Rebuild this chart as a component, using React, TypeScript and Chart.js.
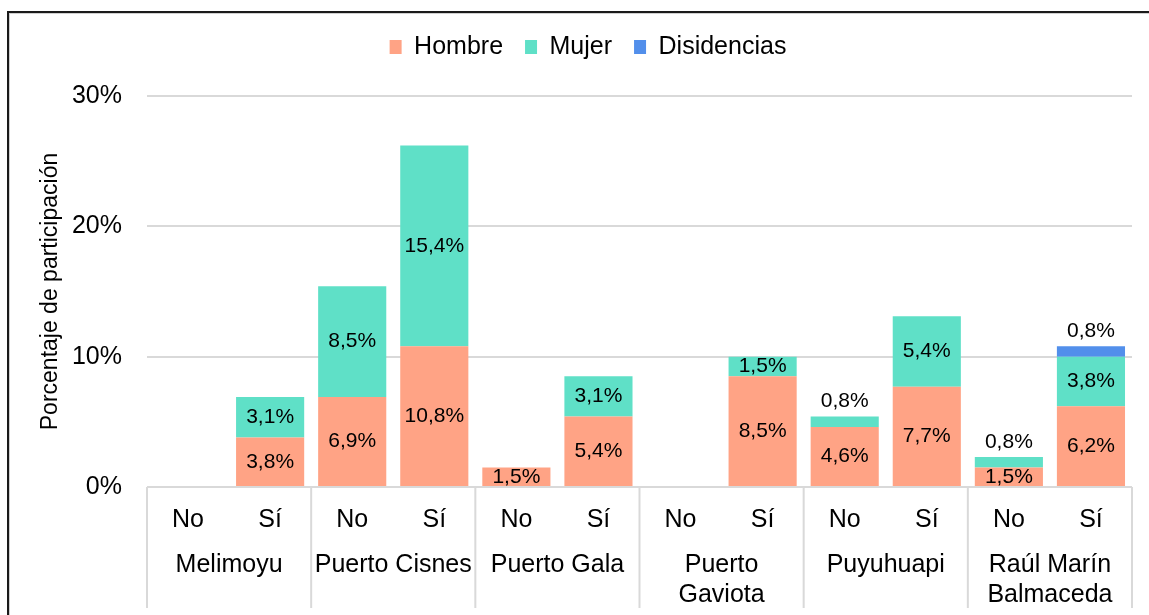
import React, { useEffect, useRef } from "react";
import { Chart, registerables } from "chart.js";

Chart.register(...registerables);

const groups: (string | string[])[] = [
  "Melimoyu",
  "Puerto Cisnes",
  "Puerto Gala",
  ["Puerto", "Gaviota"],
  "Puyuhuapi",
  ["Raúl Marín", "Balmaceda"],
];
const answers = ["No", "Sí", "No", "Sí", "No", "Sí", "No", "Sí", "No", "Sí", "No", "Sí"];

const hombre = [null, 3.8, 6.9, 10.8, 1.5, 5.4, null, 8.5, 4.6, 7.7, 1.5, 6.2];
const mujer = [null, 3.1, 8.5, 15.4, null, 3.1, null, 1.5, 0.8, 5.4, 0.8, 3.8];
const disidencias = [null, null, null, null, null, null, null, null, null, null, null, 0.8];

const yTicks = [0, 10, 20, 30];

const FONT = "'Liberation Sans', Arial, sans-serif";

const fmt = (v: number) => v.toFixed(1).replace(".", ",") + "%";

const labelsPlugin = {
  id: "barLabels",
  afterDatasetsDraw(chart: any) {
    const ctx = chart.ctx;
    ctx.save();
    ctx.font = `21px ${FONT}`;
    ctx.fillStyle = "#000";
    ctx.textAlign = "center";
    ctx.textBaseline = "middle";
    chart.data.datasets.forEach((ds: any, di: number) => {
      const meta = chart.getDatasetMeta(di);
      meta.data.forEach((el: any, i: number) => {
        const v = ds.data[i];
        if (v == null) return;
        const top = Math.min(el.y, el.base);
        const bottom = Math.max(el.y, el.base);
        if (v < 1) {
          // small segments: label above the stack top
          let stackTop = top;
          chart.data.datasets.forEach((d2: any, dj: number) => {
            if (d2.data[i] != null) {
              const e2 = chart.getDatasetMeta(dj).data[i];
              stackTop = Math.min(stackTop, e2.y);
            }
          });
          ctx.fillText(fmt(v), el.x, stackTop - 15);
        } else {
          ctx.fillText(fmt(v), el.x, (top + bottom) / 2);
        }
      });
    });
    ctx.restore();
  },
};

const separatorPlugin = {
  id: "groupSeparators",
  afterDraw(chart: any) {
    const x = chart.scales.x;
    const x2 = chart.scales.x2;
    const ctx = chart.ctx;
    const cw = x.getPixelForValue(1) - x.getPixelForValue(0);
    ctx.save();
    ctx.strokeStyle = "#d9d9d9";
    ctx.lineWidth = 2;
    ctx.beginPath();
    for (let g = 0; g <= groups.length; g++) {
      const px =
        g < groups.length
          ? x.getPixelForValue(g * 2) - cw / 2
          : x.getPixelForValue(g * 2 - 1) + cw / 2;
      ctx.moveTo(px, chart.chartArea.bottom);
      ctx.lineTo(px, x2.top + 75);
    }
    ctx.stroke();
    ctx.restore();
  },
};

export default function App() {
  const ref = useRef<HTMLCanvasElement>(null);

  useEffect(() => {
    if (!ref.current) return;
    Chart.defaults.font.family = FONT;
    Chart.defaults.color = "#000";
    const chart = new Chart(ref.current, {
      type: "bar",
      data: {
        labels: answers,
        datasets: [
          { label: "Hombre", data: hombre, backgroundColor: "#FFA385", borderWidth: 0 },
          { label: "Mujer", data: mujer, backgroundColor: "#5FE0C7", borderWidth: 0 },
          { label: "Disidencias", data: disidencias, backgroundColor: "#528FEB", borderWidth: 0 },
        ],
      },
      options: {
        animation: false,
        responsive: false,
        layout: { padding: { left: 44, right: 17, top: 12.5, bottom: 0 } },
        datasets: { bar: { categoryPercentage: 1, barPercentage: 0.83 } },
        plugins: {
          legend: {
            position: "top",
            labels: {
              font: { size: 25 },
              boxWidth: 12,
              boxHeight: 14,
              padding: 22,
              color: "#000",
            },
          },
          title: {
            display: true,
            text: "",
            weight: 100,
            padding: { top: 0, bottom: 25.5 },
            font: { size: 1, lineHeight: 1 },
          } as any,
          tooltip: { enabled: false },
        },
        scales: {
          x: {
            stacked: true,
            weight: 0,
            grid: { display: false },
            border: { display: false },
            ticks: {
              font: { size: 25 },
              padding: 10,
              autoSkip: false,
              maxRotation: 0,
              color: "#000",
            },
            afterFit: (s: any) => {
              s.height = 46;
            },
          },
          x2: {
            type: "category",
            position: "bottom",
            labels: groups as any,
            offset: true,
            weight: 1,
            grid: { display: false },
            border: { display: false },
            ticks: {
              font: { size: 25, lineHeight: 1.2 },
              padding: 9,
              autoSkip: false,
              maxRotation: 0,
              color: "#000",
            },
            afterFit: (s: any) => {
              s.height = 82;
            },
          },
          y: {
            stacked: true,
            min: yTicks[0],
            max: yTicks[yTicks.length - 1],
            grid: { color: "#d9d9d9", lineWidth: 2, drawTicks: false },
            border: { display: false },
            ticks: {
              stepSize: 10,
              padding: 25,
              font: { size: 25 },
              color: "#000",
              callback: (v: any) => v + "%",
            },
            title: {
              display: true,
              text: "Porcentaje de participación",
              font: { size: 23, lineHeight: 1 },
              padding: { top: -5, bottom: 0 },
              color: "#000",
            },
            afterFit: (s: any) => {
              s.width = 103;
            },
          },
        },
      },
      plugins: [labelsPlugin, separatorPlugin],
    });
    return () => chart.destroy();
  }, []);

  return (
    <div
      style={{
        position: "fixed",
        left: 0,
        top: 0,
        width: 1149,
        height: 615,
        background: "#fff",
        overflow: "hidden",
      }}
    >
      <div
        style={{
          position: "absolute",
          left: 7,
          top: 11,
          width: 1160,
          height: 620,
          borderTop: "2px solid #1a1a1a",
          borderLeft: "2px solid #1a1a1a",
          boxShadow: "inset 1px 1px 0 #cfcfcf",
        }}
      />
      <canvas
        ref={ref}
        width={1149}
        height={615}
        style={{ position: "absolute", left: 0, top: 0 }}
      />
    </div>
  );
}
